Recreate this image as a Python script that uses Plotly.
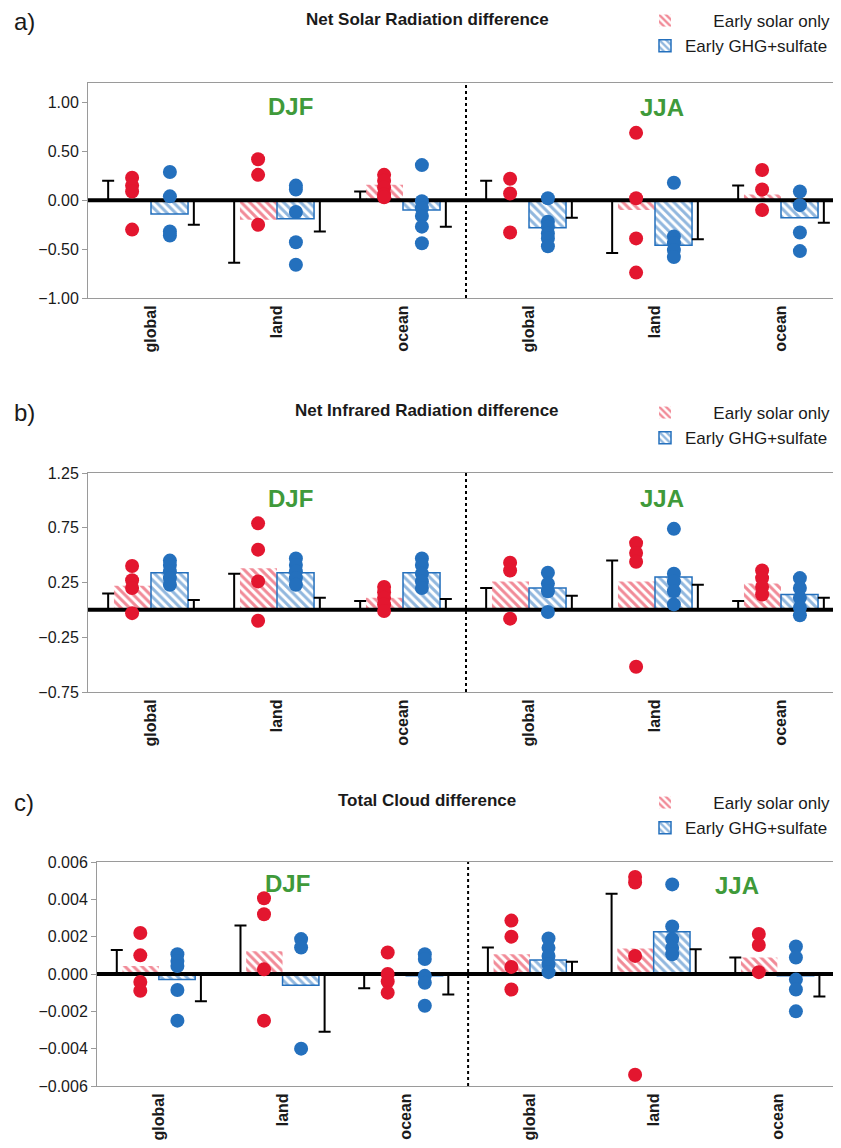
import numpy as np
import plotly.graph_objects as go

# ---------------- data ----------------
categories = ["global", "land", "ocean", "global", "land", "ocean"]
seasons = ["DJF", "JJA"]
series_names = ["Early solar only", "Early GHG+sulfate"]

# a) Net Solar Radiation difference
sol_bar_a = [0.01, -0.20, 0.16, 0.01, -0.10, 0.06]
ghg_bar_a = [-0.14, -0.19, -0.10, -0.28, -0.46, -0.18]
err_left_a = [0.20, -0.64, 0.09, 0.20, -0.54, 0.15]
err_right_a = [-0.25, -0.32, -0.27, -0.18, -0.40, -0.23]
sol_dots_a = [[0.23, 0.15, 0.09, -0.30], [0.42, 0.26, -0.25], [0.26, 0.20, 0.13, 0.06, 0.03],
              [0.22, 0.07, -0.33], [0.69, 0.02, -0.39, -0.74], [0.31, 0.11, -0.10]]
ghg_dots_a = [[0.29, 0.04, -0.32, -0.36], [0.15, 0.11, -0.12, -0.43, -0.66],
              [0.36, -0.01, -0.08, -0.16, -0.27, -0.44], [0.02, -0.22, -0.27, -0.34, -0.39, -0.47],
              [0.18, -0.37, -0.44, -0.51, -0.58], [0.09, -0.05, -0.33, -0.52]]

# b) Net Infrared Radiation difference
sol_bar_b = [0.22, 0.38, 0.11, 0.26, 0.26, 0.24]
ghg_bar_b = [0.34, 0.34, 0.34, 0.20, 0.30, 0.14]
err_left_b = [0.15, 0.33, 0.08, 0.20, 0.45, 0.08]
err_right_b = [0.09, 0.11, 0.10, 0.13, 0.23, 0.11]
sol_dots_b = [[0.40, 0.27, 0.20, -0.03], [0.79, 0.55, 0.26, -0.10], [0.21, 0.16, 0.11, 0.05, -0.01],
              [0.43, 0.36, -0.08], [0.61, 0.52, 0.44, -0.52], [0.36, 0.29, 0.21, 0.14]]
ghg_dots_b = [[0.45, 0.41, 0.35, 0.29, 0.23], [0.47, 0.41, 0.35, 0.29, 0.23],
              [0.47, 0.41, 0.33, 0.26, 0.20], [0.34, 0.24, 0.17, -0.02],
              [0.74, 0.33, 0.26, 0.17, 0.05], [0.29, 0.20, 0.11, 0.02, -0.05]]

# c) Total Cloud difference
sol_bar_c = [0.00043, 0.00122, 0.00000, 0.00106, 0.00137, 0.00088]
ghg_bar_c = [-0.00030, -0.00060, -0.00010, 0.00075, 0.00226, -0.00010]
err_left_c = [0.00128, 0.00260, -0.00077, 0.00142, 0.00430, 0.00088]
err_right_c = [-0.00146, -0.00310, -0.00110, 0.00065, 0.00133, -0.00120]
sol_dots_c = [[0.0022, 0.0010, -0.00043, -0.0009], [0.00406, 0.0032, 0.00025, -0.0025],
              [0.00115, 0.0, -0.0004, -0.0010], [0.00286, 0.0020, 0.00038, -0.00083],
              [0.0052, 0.0049, 0.00097, -0.0054], [0.00214, 0.00155, 0.0001]]
ghg_dots_c = [[0.00106, 0.0007, 0.00043, -0.00086, -0.0025], [0.00187, 0.00142, -0.0040],
              [0.00106, 0.0008, -0.0001, -0.00047, -0.0017], [0.0019, 0.0014, 0.00097, 0.00052, 0.0001],
              [0.0048, 0.00255, 0.00187, 0.0014, 0.00106], [0.00147, 0.00088, -0.0003, -0.00083, -0.0020]]

# ---------------- style ----------------
PAGE_OFF = 8                     # default margin of the html body
PAGE_W, PAGE_H = 841, 1148
W, H = PAGE_W - 2 * PAGE_OFF, PAGE_H - 2 * PAGE_OFF
RIGHT_LIMIT = PAGE_OFF + W       # last visible page pixel of the figure
RED = "#e3162f"
BLUE = "#2470bd"
GREEN = "#3f9a3a"
GREY = "#9a9a9a"
FONT = "Liberation Sans, Arial, sans-serif"
NBSP = "\u00a0"


def px(x):   # page pixel -> paper x
    return (x - PAGE_OFF) / W


def py(y):   # page pixel -> paper y
    return 1 - (y - PAGE_OFF) / H


panels = [
    dict(letter="a)", title="Net Solar Radiation difference",
         sol=sol_bar_a, ghg=ghg_bar_a, el=err_left_a, er=err_right_a, sd=sol_dots_a, gd=ghg_dots_a,
         ypx=(83, 298), xleft=88, cat_px=126.0, yrange=[-1.0, 1.2],
         tickvals=[-1.0, -0.5, 0.0, 0.5, 1.0], fmt=".2f",
         head_y=20, leg_y=3, djf=(290, 107), jja=(662, 108)),
    dict(letter="b)", title="Net Infrared Radiation difference",
         sol=sol_bar_b, ghg=ghg_bar_b, el=err_left_b, er=err_right_b, sd=sol_dots_b, gd=ghg_dots_b,
         ypx=(473, 692), xleft=88, cat_px=126.0, yrange=[-0.75, 1.25],
         tickvals=[-0.75, -0.25, 0.25, 0.75, 1.25], fmt=".2f",
         head_y=410, leg_y=395, djf=(290, 499), jja=(662, 499)),
    dict(letter="c)", title="Total Cloud difference",
         sol=sol_bar_c, ghg=ghg_bar_c, el=err_left_c, er=err_right_c, sd=sol_dots_c, gd=ghg_dots_c,
         ypx=(862, 1086), xleft=97, cat_px=123.7, yrange=[-0.006, 0.006],
         tickvals=[-0.006, -0.004, -0.002, 0.0, 0.002, 0.004, 0.006], fmt=".3f",
         head_y=800, leg_y=785, djf=(287, 883), jja=(737, 885)),
]

idx = np.arange(len(categories), dtype=float)
BAR_W = 0.294
DOT_OFF = 0.15
ERR_OFF = 0.34

fig = go.Figure()
layout = dict(width=W, height=H, margin=dict(l=0, r=0, t=0, b=0, autoexpand=False),
              paper_bgcolor="white", plot_bgcolor="white", barmode="overlay",
              font=dict(family=FONT, color="#1a1a1a"), hovermode=False,
              annotations=[], shapes=[])

for k, p in enumerate(panels, start=1):
    sfx = "" if k == 1 else str(k)
    xa, ya = "x" + sfx, "y" + sfx
    leg = "legend" + sfx

    x0 = p["xleft"]
    x1 = min(x0 + len(categories) * p["cat_px"], RIGHT_LIMIT)
    xrange = [-0.5, -0.5 + (x1 - x0) / p["cat_px"]]

    sol_name = NBSP * 6 + series_names[0]
    # bars
    fig.add_trace(go.Bar(
        x=idx - BAR_W / 2, y=p["sol"], width=BAR_W, xaxis=xa, yaxis=ya,
        name=sol_name, legend=leg,
        marker=dict(color=RED, line=dict(width=0),
                    pattern=dict(shape="\\", fgcolor=RED, bgcolor="white", size=6, solidity=0.5))))
    fig.add_trace(go.Bar(
        x=idx + BAR_W / 2, y=p["ghg"], width=BAR_W, xaxis=xa, yaxis=ya,
        name=series_names[1], legend=leg,
        marker=dict(color=BLUE, line=dict(width=1.5, color=BLUE),
                    pattern=dict(shape="\\", fgcolor=BLUE, bgcolor="white", size=6, solidity=0.5))))

    # one-sided error bars
    for vals, off in ((p["el"], -ERR_OFF), (p["er"], ERR_OFF)):
        v = np.array(vals, dtype=float)
        fig.add_trace(go.Scatter(
            x=idx + off, y=np.zeros_like(v), xaxis=xa, yaxis=ya, mode="markers",
            marker=dict(size=1, color="rgba(0,0,0,0)"), showlegend=False,
            error_y=dict(type="data", symmetric=False, array=np.maximum(v, 0),
                         arrayminus=np.maximum(-v, 0), color="black", thickness=2, width=6)))

    # zero line
    fig.add_trace(go.Scatter(x=xrange, y=[0, 0], xaxis=xa, yaxis=ya, mode="lines",
                             line=dict(color="black", width=4), showlegend=False))

    # model dots
    for dots, off, col in ((p["sd"], -DOT_OFF, RED), (p["gd"], DOT_OFF, BLUE)):
        xs = [i + off for i, grp in enumerate(dots) for _ in grp]
        ys = [val for grp in dots for val in grp]
        fig.add_trace(go.Scatter(x=xs, y=ys, xaxis=xa, yaxis=ya, mode="markers",
                                 marker=dict(size=14, color=col), showlegend=False,
                                 cliponaxis=False))

    ytop, ybot = p["ypx"]
    layout["xaxis" + sfx] = dict(
        domain=[px(x0), px(x1)], anchor=ya, range=xrange, automargin=False,
        showline=True, mirror=True, linecolor=GREY, linewidth=1, ticks="",
        showgrid=False, zeroline=False, tickmode="array", tickvals=idx, ticktext=categories,
        tickangle=-90, tickfont=dict(size=16, weight="bold", color="#1a1a1a"), fixedrange=True)
    layout["yaxis" + sfx] = dict(
        domain=[py(ybot), py(ytop)], anchor=xa, range=p["yrange"], automargin=False,
        showline=True, linecolor=GREY, linewidth=1, ticks="outside", ticklen=5, tickcolor=GREY,
        showgrid=False, zeroline=False, tickmode="array", tickvals=p["tickvals"],
        tickformat=p["fmt"], tickfont=dict(size=16, color="#1a1a1a"), fixedrange=True)
    layout[leg] = dict(x=px(645), y=py(p["leg_y"]), xanchor="left", yanchor="top",
                       bgcolor="rgba(0,0,0,0)", font=dict(size=17, family=FONT, color="#1a1a1a"),
                       tracegroupgap=0, itemclick=False, itemdoubleclick=False)

    # separator between seasons
    layout["shapes"].append(dict(type="line", xref=xa, yref=ya + " domain", x0=2.5, x1=2.5,
                                 y0=0, y1=1, line=dict(color="black", width=2, dash="dot")))

    # texts
    layout["annotations"] += [
        dict(text=p["letter"], xref="paper", yref="paper", x=px(12), y=py(p["head_y"] + 2),
             xanchor="left", yanchor="middle", showarrow=False, font=dict(size=24)),
        dict(text=p["title"], xref="paper", yref="paper", x=px(427), y=py(p["head_y"]),
             xanchor="center", yanchor="middle", showarrow=False, font=dict(size=17, weight="bold")),
        dict(text=seasons[0], xref="paper", yref="paper", x=px(p["djf"][0]), y=py(p["djf"][1]),
             xanchor="center", yanchor="middle", showarrow=False,
             font=dict(size=24, weight="bold", color=GREEN)),
        dict(text=seasons[1], xref="paper", yref="paper", x=px(p["jja"][0]), y=py(p["jja"][1]),
             xanchor="center", yanchor="middle", showarrow=False,
             font=dict(size=24, weight="bold", color=GREEN)),
    ]

fig.update_layout(**layout)
fig.write_html("out.html")
